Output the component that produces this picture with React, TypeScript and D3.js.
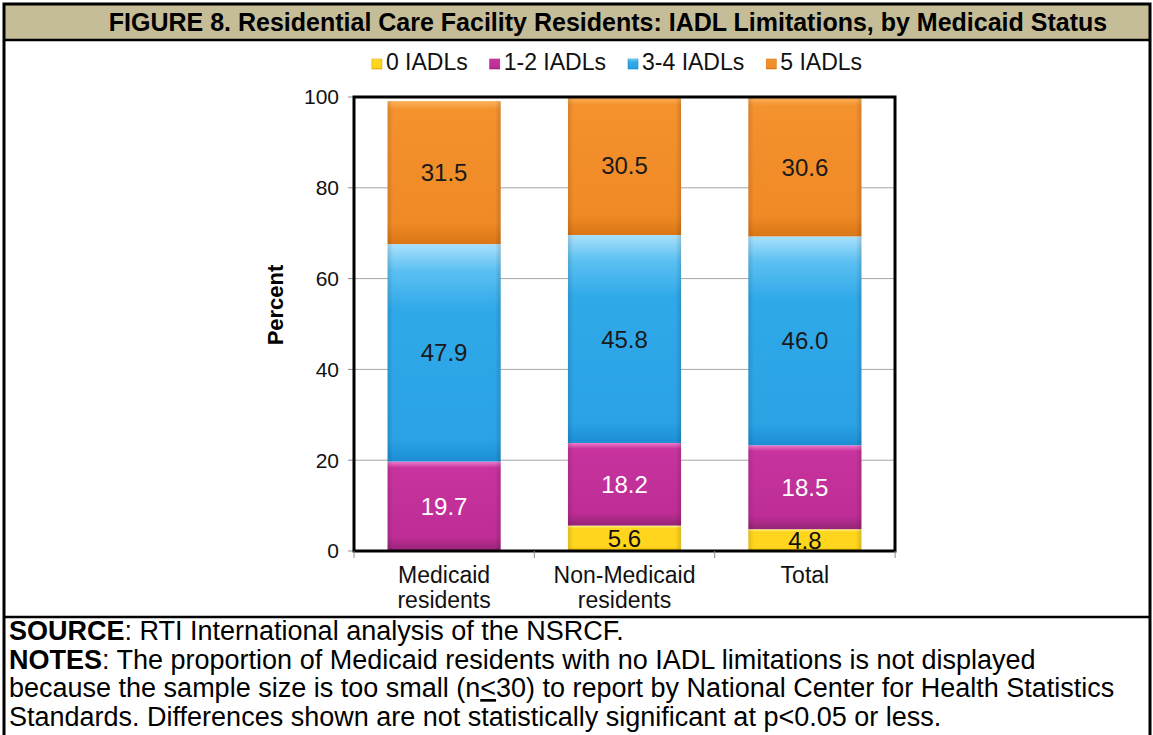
import * as d3 from "d3";

const categories = ["Medicaid residents", "Non-Medicaid residents", "Total"];
const categoryLines = [["Medicaid", "residents"], ["Non-Medicaid", "residents"], ["Total"]];
const seriesNames = ["0 IADLs", "1-2 IADLs", "3-4 IADLs", "5 IADLs"];
const iadl0: (number | null)[] = [null, 5.6, 4.8];
const iadl12 = [19.7, 18.2, 18.5];
const iadl34 = [47.9, 45.8, 46.0];
const iadl5 = [31.5, 30.5, 30.6];
const yTicks = [0, 20, 40, 60, 80, 100];

const palette = [
  { id: "g0", stops: [["0", "#fff38a"], ["0.12", "#ffd51e"], ["0.85", "#ffd51e"], ["1", "#efb000"]], label: "#111", edge: "#d9a400" },
  { id: "g1", stops: [["0", "#ee7cca"], ["0.07", "#c8339e"], ["0.85", "#bd2d95"], ["1", "#962476"]], label: "#fff", edge: "#962476" },
  { id: "g2", stops: [["0", "#a9e1fb"], ["0.12", "#5cc0f2"], ["0.3", "#30a9e9"], ["0.9", "#2aa2e4"], ["1", "#1c8ed4"]], label: "#1a1a1a", edge: "#1c8ed4" },
  { id: "g3", stops: [["0", "#fbb25c"], ["0.06", "#f4922e"], ["0.85", "#f08a26"], ["1", "#db7616"]], label: "#1a1a1a", edge: "#db7616" },
];

const FONT = "'Liberation Sans', Arial, sans-serif";

export default function App() {
  const width = 1153;
  const height = 735;
  const plot = { left: 354, right: 895, top: 97, bottom: 551 };

  const rows = categories.map((c, i) => ({
    cat: c,
    s0: iadl0[i] ?? 0,
    s1: iadl12[i],
    s2: iadl34[i],
    s3: iadl5[i],
  }));
  const raw = [iadl0, iadl12, iadl34, iadl5];
  const stack = d3.stack<any>().keys(["s0", "s1", "s2", "s3"])(rows);

  const x = d3.scaleBand()
    .domain(categories)
    .range([plot.left, plot.right])
    .paddingInner(0.373)
    .paddingOuter(0.186);

  const y = d3.scaleLinear().domain([0, 100]).range([plot.bottom, plot.top]);

  // legend layout (approximate text widths, Arial em units)
  const legendFont = 23;
  const em = (s: string) => {
    const w: Record<string, number> = { "0": 556, "1": 556, "2": 556, "3": 556, "4": 556, "5": 556, "-": 333, " ": 278, I: 278, A: 667, D: 722, L: 556, s: 500 };
    return s.split("").reduce((a, ch) => a + (w[ch] ?? 556), 0) / 1000;
  };
  const sw = 10, gapT = 4, gapItem = 22;
  const itemW = seriesNames.map(n => sw + gapT + em(n) * legendFont);
  const legendTotal = d3.sum(itemW) + gapItem * (seriesNames.length - 1);
  let lx = 617 - legendTotal / 2;
  const legendPos = itemW.map(w => { const p = lx; lx += w + gapItem; return p; });

  return (
    <svg width={width} height={height} style={{ position: "absolute", left: 0, top: 0, background: "#fff" }} fontFamily={FONT}>
      <defs>
        {palette.map(p => (
          <linearGradient key={p.id} id={p.id} x1="0" y1="0" x2="0" y2="1">
            {p.stops.map(([o, c]) => <stop key={o} offset={o} stopColor={c} />)}
          </linearGradient>
        ))}
        <linearGradient id="edge" x1="0" y1="0" x2="1" y2="0">
          <stop offset="0" stopColor="#000" stopOpacity="0.12" />
          <stop offset="0.05" stopColor="#000" stopOpacity="0" />
          <stop offset="0.95" stopColor="#000" stopOpacity="0" />
          <stop offset="1" stopColor="#000" stopOpacity="0.14" />
        </linearGradient>
      </defs>

      {/* title band */}
      <rect x={4} y={5} width={1146} height={35} fill="#c5bd98" />
      <text x={608} y={31} textAnchor="middle" fontSize={25} fontWeight={700} fill="#000">
        FIGURE 8. Residential Care Facility Residents: IADL Limitations, by Medicaid Status
      </text>

      {/* legend */}
      <g fontSize={legendFont} fill="#111">
        {seriesNames.map((n, i) => (
          <g key={n} transform={`translate(${legendPos[i]},62)`}>
            <rect x={0} y={-3} width={sw} height={sw} fill={`url(#${palette[i].id})`} stroke={palette[i].edge} strokeWidth={0.6} />
            <text x={sw + gapT} y={0} dy="0.35em">{n}</text>
          </g>
        ))}
      </g>

      {/* grid + y ticks */}
      <g fontSize={21} fill="#111">
        {yTicks.map(t => (
          <g key={t} transform={`translate(0,${y(t)})`}>
            {t > 0 && t < 100 && <line x1={plot.left} x2={plot.right} stroke="#a6a6a6" strokeWidth={1} />}
            <line x1={plot.left - 6} x2={plot.left} stroke="#8c8c8c" strokeWidth={1} />
            <text x={plot.left - 15} dy="0.35em" textAnchor="end">{t}</text>
          </g>
        ))}
      </g>

      {/* bars */}
      {stack.map((layer, si) => (
        <g key={si}>
          {layer.map((d, ci) => {
            if (raw[si][ci] == null) return null;
            const bx = x(categories[ci]) ?? 0;
            const y0 = y(d[0]);
            const y1 = y(d[1]);
            return (
              <g key={ci}>
                <rect x={bx} y={y1} width={x.bandwidth()} height={y0 - y1} fill={`url(#${palette[si].id})`} />
                <rect x={bx} y={y1} width={x.bandwidth()} height={y0 - y1} fill="url(#edge)" />
                <text x={bx + x.bandwidth() / 2} y={(y0 + y1) / 2} dy="0.36em" textAnchor="middle" fontSize={24} fill={palette[si].label}>
                  {d3.format(".1f")(raw[si][ci] as number)}
                </text>
              </g>
            );
          })}
        </g>
      ))}

      {/* plot frame */}
      <rect x={plot.left} y={plot.top} width={plot.right - plot.left} height={plot.bottom - plot.top} fill="none" stroke="#000" strokeWidth={3} />

      {/* x ticks */}
      {[plot.left, ...categories.map(c => (x(c) ?? 0) + x.bandwidth() / 2 + x.step() / 2)].map((tx, i) => (
        <line key={i} x1={tx} x2={tx} y1={plot.bottom} y2={plot.bottom + 7} stroke="#8c8c8c" strokeWidth={1} />
      ))}

      {/* x labels */}
      <g fontSize={23} fill="#111" textAnchor="middle">
        {categories.map((c, i) => (
          <text key={c} x={(x(c) ?? 0) + x.bandwidth() / 2} y={583}>
            {categoryLines[i].map((ln, k) => (
              <tspan key={k} x={(x(c) ?? 0) + x.bandwidth() / 2} dy={k === 0 ? 0 : 25}>{ln}</tspan>
            ))}
          </text>
        ))}
      </g>

      {/* y title */}
      <text transform="translate(283,305) rotate(-90)" textAnchor="middle" fontSize={22} fontWeight={700} fill="#000">Percent</text>

      {/* frame lines */}
      <rect x={4} y={4} width={1146} height={740} fill="none" stroke="#000" strokeWidth={3} />
      <line x1={4} x2={1150} y1={40} y2={40} stroke="#000" strokeWidth={2.5} />
      <line x1={4} x2={1150} y1={617} y2={617} stroke="#000" strokeWidth={2.5} />

      {/* footer */}
      <g fontSize={27} fill="#000">
        <text x={9} y={640}><tspan fontWeight={700}>SOURCE</tspan>:  RTI International analysis of the NSRCF.</text>
        <text x={9} y={668.5}><tspan fontWeight={700}>NOTES</tspan>:  The proportion of Medicaid residents with no IADL limitations is not displayed</text>
        <text x={9} y={697}>because the sample size is too small (n<tspan textDecoration="underline">&lt;</tspan>30) to report by National Center for Health Statistics</text>
        <text x={9} y={725.5}>Standards. Differences shown are not statistically significant at p&lt;0.05 or less.</text>
      </g>
    </svg>
  );
}
